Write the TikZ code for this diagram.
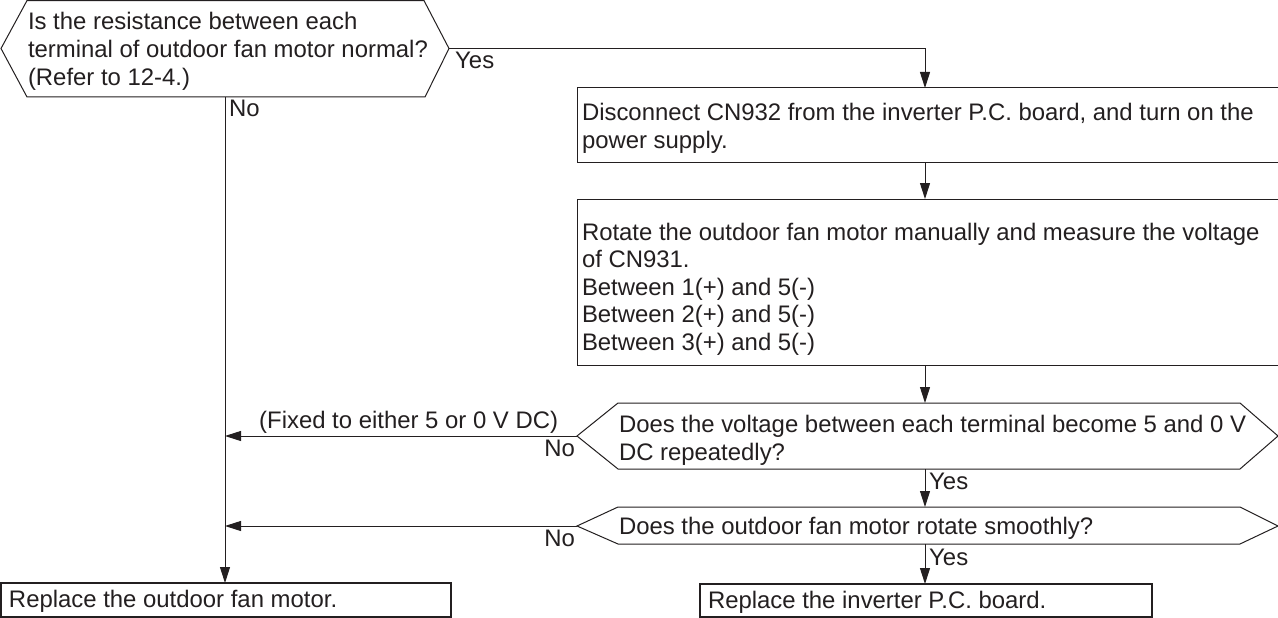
\documentclass[tikz,border=0pt]{standalone}
\usepackage{fontspec}
\setmainfont{Liberation Sans}
\usetikzlibrary{arrows.meta}
\definecolor{ink}{RGB}{35,31,32}
\begin{document}
\begin{tikzpicture}[x=1pt,y=-1pt,
  line/.style={draw=ink,line width=1pt},
  arr/.style={draw=ink,line width=1pt,-{Triangle[length=16pt,width=10pt]}},
  txt/.style={anchor=base west,inner sep=0pt,outer sep=0pt,text=ink,font=\fontsize{23.9}{27.6}\selectfont},
  lblw/.style={anchor=base west,inner sep=0pt,text=ink,font=\fontsize{23.9}{27.6}\selectfont},
  lble/.style={anchor=base east,inner sep=0pt,text=ink,font=\fontsize{23.9}{27.6}\selectfont},
  stepbox/.style={draw=ink,line width=1pt,inner sep=0pt,outer sep=0pt,anchor=north west},
  endbox/.style={draw=ink,line width=2.8pt,inner sep=0pt,outer sep=0pt,anchor=north west}]
\useasboundingbox (0,0) rectangle (1278,618);
\fill[white] (0,0) rectangle (1278,618);

% spines
\coordinate (spine) at (925,0);
\coordinate (lspine) at (225,0);

% decision 1
\coordinate (h1W) at (1,48.5);
\coordinate (h1E) at (449,48.5);
\coordinate (h1S) at (225,97);
\draw[line] (h1W) -- (27,0.6) -- (424,0.6) -- (h1E) -- (425,97) -- (27,97) -- cycle;
\node[txt] (t1) at (28,30) {\parbox[t]{700pt}{Is the resistance between each\\terminal of outdoor fan motor normal?\\(Refer to 12-4.)}};

% box 1
\node[stepbox,minimum width=713pt,minimum height=74pt] (b1) at (577,88) {};
\node[txt] (t2) at (582,121) {\parbox[t]{700pt}{Disconnect CN932 from the inverter P.C. board, and turn on the\\power supply.}};

% box 2
\node[stepbox,minimum width=713pt,minimum height=166pt] (b2) at (577,199) {};
\node[txt] (t3) at (582,240) {\parbox[t]{700pt}{Rotate the outdoor fan motor manually and measure the voltage\\of CN931.\\Between 1(+) and 5(-)\\Between 2(+) and 5(-)\\Between 3(+) and 5(-)}};

% decision 2
\coordinate (h2W) at (577,436);
\coordinate (h2E) at (1278,436);
\coordinate (h2N) at (925,403);
\coordinate (h2S) at (925,469);
\draw[line] (h2W) -- (618,403) -- (1240,403) -- (h2E) -- (1240,469) -- (618,469) -- cycle;
\node[txt] (t4) at (619,432.5) {\parbox[t]{700pt}{Does the voltage between each terminal become 5 and 0 V\\DC repeatedly?}};

% decision 3
\coordinate (h3W) at (577,526);
\coordinate (h3E) at (1278,526);
\coordinate (h3N) at (925,507);
\coordinate (h3S) at (925,544);
\draw[line] (h3W) -- (618,507) -- (1240,507) -- (h3E) -- (1240,544) -- (618,544) -- cycle;
\node[txt] (t5) at (619,534) {Does the outdoor fan motor rotate smoothly?};

% end boxes
\node[endbox,minimum width=450pt,minimum height=34pt] (r1) at (1,583) {};
\node[txt] (t6) at (9,607) {Replace the outdoor fan motor.};
\node[endbox,minimum width=452pt,minimum height=33pt] (r2) at (700,584) {};
\node[txt] (t7) at (708,608) {Replace the inverter P.C. board.};

% connectors
\draw[arr] (h1E) -| (spine |- b1.north);
\draw[arr] (spine |- b1.south) -- (spine |- b2.north);
\draw[arr] (spine |- b2.south) -- (h2N);
\draw[arr] (h2S) -- (h3N);
\draw[arr] (h3S) -- (spine |- r2.north);
\draw[arr] (h1S) -- (lspine |- r1.north);
\draw[arr] (h2W) -- (lspine |- h2W);
\draw[arr] (h3W) -- (lspine |- h3W);

% labels
\node[lblw] (l1) at (455,69) {Yes};
\node[lblw] (l2) at (229,117) {No};
\node[lblw] (l3) at (259,428) {(Fixed to either 5 or 0 V DC)};
\node[lble] (l4) at (575,456) {No};
\node[lblw] (l5) at (929,489) {Yes};
\node[lble] (l6) at (575,546) {No};
\node[lblw] (l7) at (929,565) {Yes};
\end{tikzpicture}
\end{document}
